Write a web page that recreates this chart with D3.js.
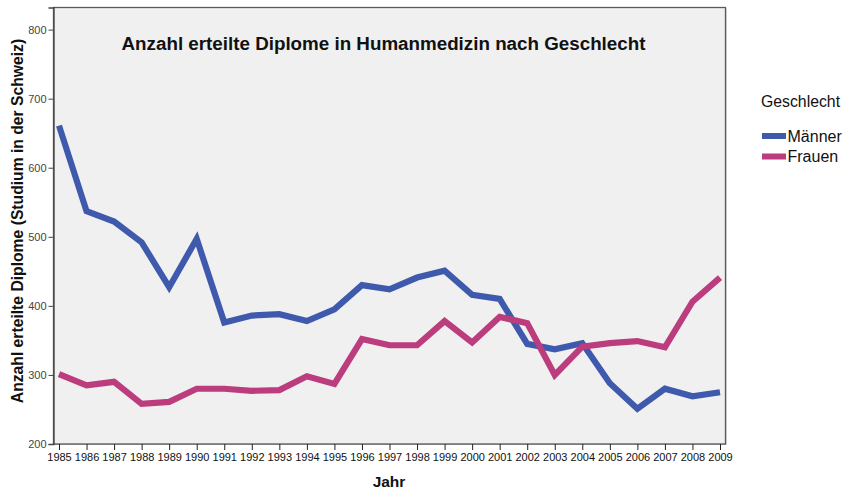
<!DOCTYPE html>
<html><head><meta charset="utf-8">
<script src="https://cdn.jsdelivr.net/npm/d3@7"></script>
<style>
html,body{margin:0;padding:0;background:#fff;}
svg{display:block;font-family:"Liberation Sans",Arial,sans-serif;}
</style></head>
<body><svg id="c" width="846" height="490"></svg>
<script>
const years = [1985,1986,1987,1988,1989,1990,1991,1992,1993,1994,1995,1996,1997,1998,1999,2000,2001,2002,2003,2004,2005,2006,2007,2008,2009];
const maenner = [661,537,522,492,427,497,376,386,388,378,395,430,424,441,451,416,410,345,337,346,288,251,280,269,275];
const frauen = [301,285,290,258,261,280,280,277,278,298,287,352,343,343,378,347,384,375,300,341,346,349,340,406,441];
const yTicks = [200,300,400,500,600,700,800];
const seriesNames = ["Männer","Frauen"];
const seriesColors = ["#3f5aac","#bb3d7e"];

const svg = d3.select("#c");
const L=53.5, R=725.5, T=7.5, B=444;
const x = d3.scalePoint().domain(years).range([59, 720]);
const y = d3.scaleLinear().domain([200, 832]).range([B, T]);

// plot background & frame shadow
svg.append("rect").attr("x",L+1).attr("y",T+1).attr("width",R-L).attr("height",B-T).attr("fill","#bdbdbd");
svg.append("rect").attr("x",L).attr("y",T).attr("width",R-L).attr("height",B-T)
  .attr("fill","#f0f0f0").attr("stroke","#5a5a5a").attr("stroke-width",1.3);

// axes
const yAxis = d3.axisLeft(y).tickValues(yTicks).tickSize(5).tickPadding(2);
const gy = svg.append("g").attr("transform",`translate(${L},0)`).call(yAxis);
gy.select(".domain").attr("stroke","#444").attr("stroke-width",1.3);
gy.selectAll(".tick line").attr("stroke","#444");
gy.selectAll(".tick text").attr("font-size",11).attr("fill","#444").attr("font-family","Liberation Sans, Arial, sans-serif");

const xAxis = d3.axisBottom(x).tickSize(6).tickPadding(3);
const gx = svg.append("g").attr("transform",`translate(0,${B})`).call(xAxis);
gx.select(".domain").remove();
gx.selectAll(".tick line").attr("stroke","#222");
gx.selectAll(".tick text").attr("font-size",11).attr("fill","#111").attr("font-family","Liberation Sans, Arial, sans-serif");

// lines
const line = d3.line().x((d,i)=>x(years[i])).y(d=>y(d));
[maenner,frauen].forEach((s,k)=>{
  svg.append("path").datum(s).attr("d",line).attr("fill","none")
    .attr("stroke",seriesColors[k]).attr("stroke-width",6.2).attr("stroke-linejoin","miter");
});

// title
svg.append("text").attr("x",383.5).attr("y",50).attr("text-anchor","middle")
  .attr("font-size",18.8).attr("font-weight","bold").attr("fill","#111")
  .text("Anzahl erteilte Diplome in Humanmedizin nach Geschlecht");

// axis titles
svg.append("text").attr("transform","translate(23,221) rotate(-90)").attr("text-anchor","middle")
  .attr("font-size",15.7).attr("font-weight","bold").attr("fill","#111")
  .text("Anzahl erteilte Diplome (Studium in der Schweiz)");
svg.append("text").attr("x",389).attr("y",487).attr("text-anchor","middle")
  .attr("font-size",15.5).attr("font-weight","bold").attr("fill","#111").text("Jahr");

// legend
svg.append("text").attr("x",761).attr("y",107).attr("font-size",15.8).attr("fill","#111").text("Geschlecht");
seriesNames.forEach((n,k)=>{
  const cy = 136 + k*20.5;
  svg.append("rect").attr("x",762).attr("y",cy-3).attr("width",24).attr("height",6).attr("fill",seriesColors[k]);
  svg.append("text").attr("x",787.5).attr("y",cy+5.5).attr("font-size",16).attr("fill","#111").text(n);
});
</script></body></html>
